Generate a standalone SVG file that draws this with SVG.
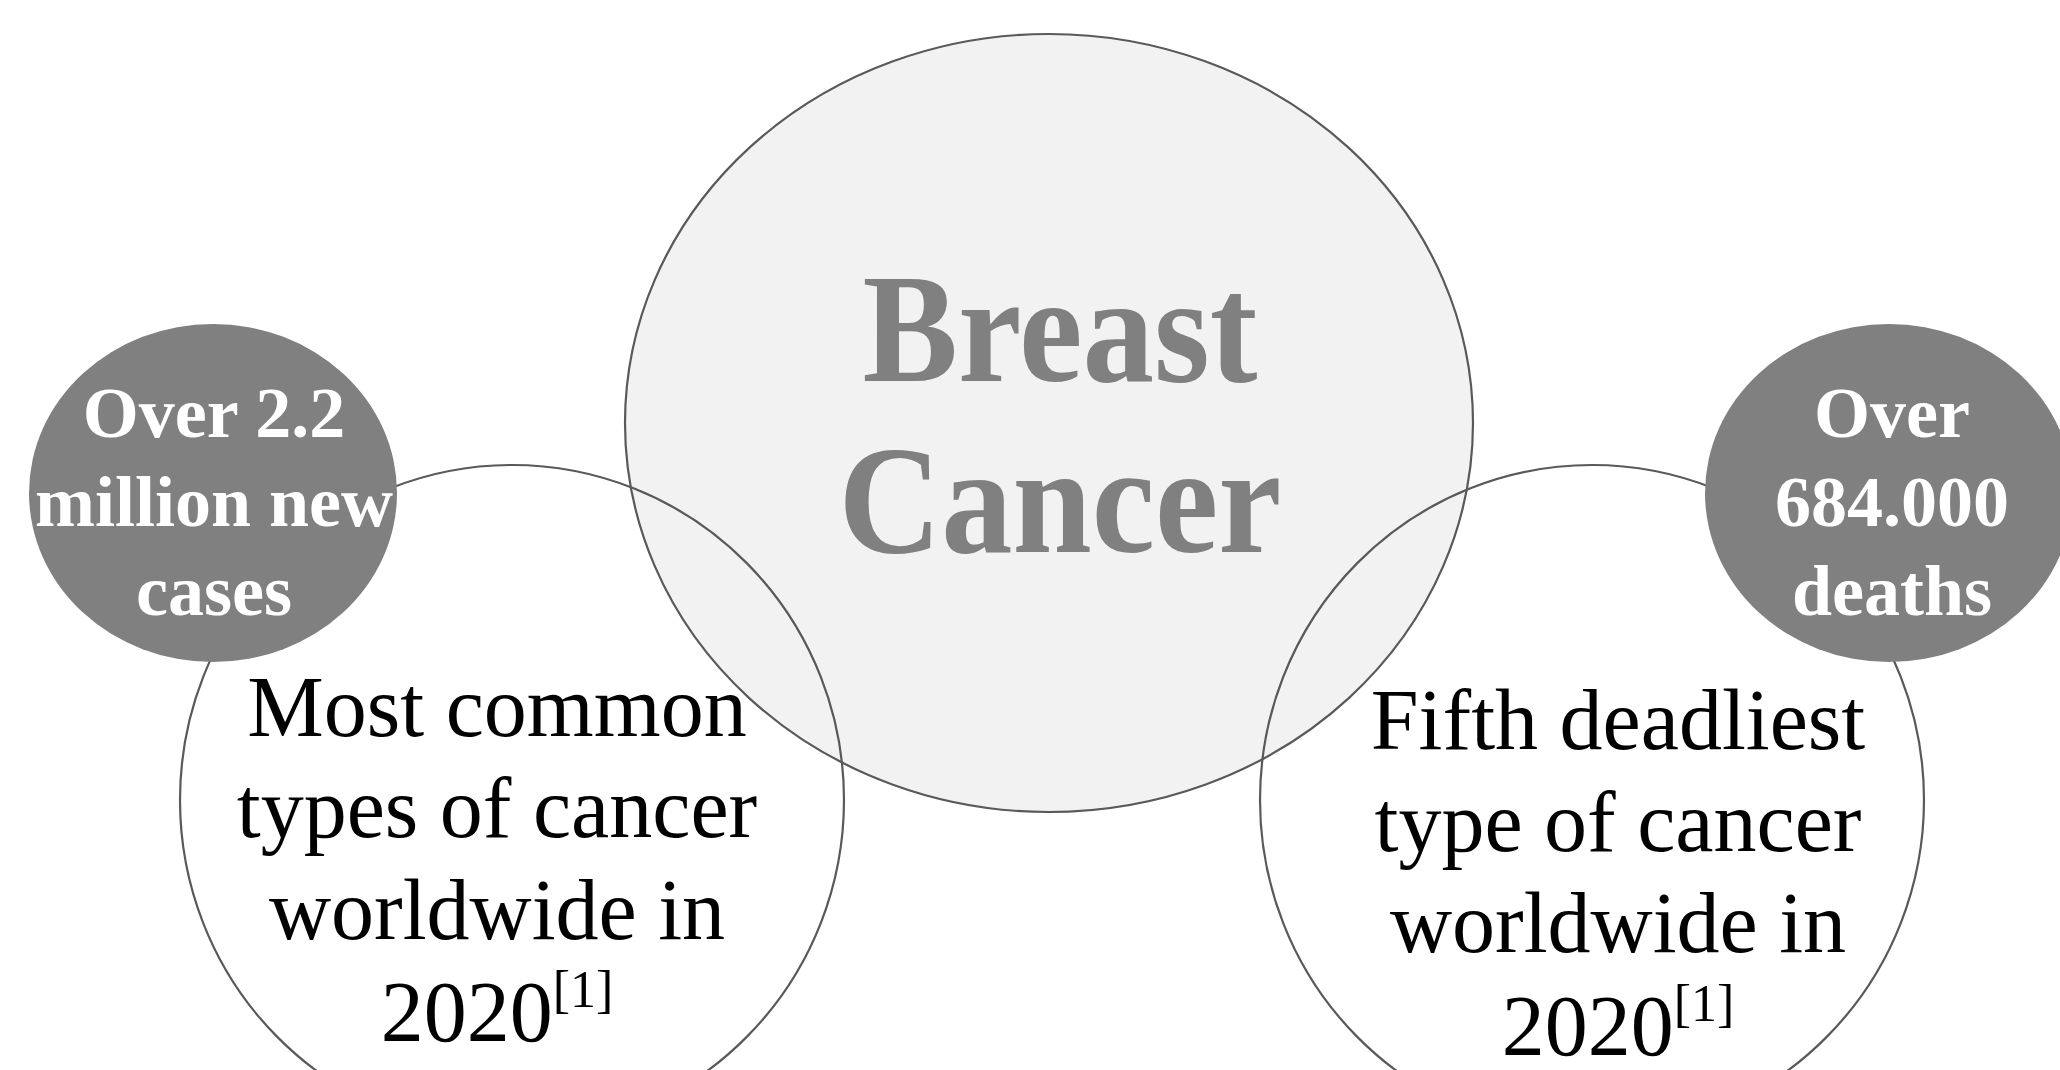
<svg xmlns="http://www.w3.org/2000/svg" width="2060" height="1070" viewBox="0 0 2060 1070">
<style>
.line{fill:none;stroke:#595959;stroke-width:2.2}
.main{fill:#f2f2f2;stroke:#595959;stroke-width:2.2}
.dark{fill:#808080}
.title{font-family:"Liberation Serif",serif;font-weight:bold;font-size:155px;fill:#808080;text-anchor:middle}
.stat{font-family:"Liberation Serif",serif;font-weight:bold;font-size:72px;fill:#ffffff;text-anchor:middle}
.body{font-family:"Liberation Serif",serif;font-size:86px;fill:#000000;text-anchor:middle}
.sup{font-size:52px}
</style>
<rect width="2060" height="1070" fill="#ffffff"/>
<g id="breast-cancer">
<ellipse class="main" cx="1049" cy="423" rx="424" ry="389"/>
<text class="title" x="1060" y="381" textLength="395" lengthAdjust="spacingAndGlyphs">Breast</text>
<text class="title" x="1060" y="552" textLength="443" lengthAdjust="spacingAndGlyphs">Cancer</text>
</g>
<g id="most-common">
<ellipse class="line" cx="512" cy="800" rx="332" ry="335"/>
<text class="body" x="497" y="736">Most common</text>
<text class="body" x="497" y="837">types of cancer</text>
<text class="body" x="497" y="939">worldwide in</text>
<text class="body" x="497" y="1041">2020<tspan class="sup" dy="-34">[1]</tspan></text>
</g>
<g id="fifth-deadliest">
<ellipse class="line" cx="1592" cy="800" rx="332" ry="335"/>
<text class="body" x="1618" y="749">Fifth deadliest</text>
<text class="body" x="1618" y="851">type of cancer</text>
<text class="body" x="1618" y="952">worldwide in</text>
<text class="body" x="1618" y="1055">2020<tspan class="sup" dy="-34">[1]</tspan></text>
</g>
<g id="new-cases">
<ellipse class="dark" cx="213" cy="493" rx="184" ry="169"/>
<text class="stat" x="214" y="437">Over 2.2</text>
<text class="stat" x="214" y="526">million new</text>
<text class="stat" x="214" y="615">cases</text>
</g>
<g id="deaths">
<ellipse class="dark" cx="1889" cy="493" rx="184" ry="169"/>
<text class="stat" x="1892" y="437">Over</text>
<text class="stat" x="1892" y="526">684.000</text>
<text class="stat" x="1892" y="615">deaths</text>
</g>
<g id="connectors"></g>
</svg>
